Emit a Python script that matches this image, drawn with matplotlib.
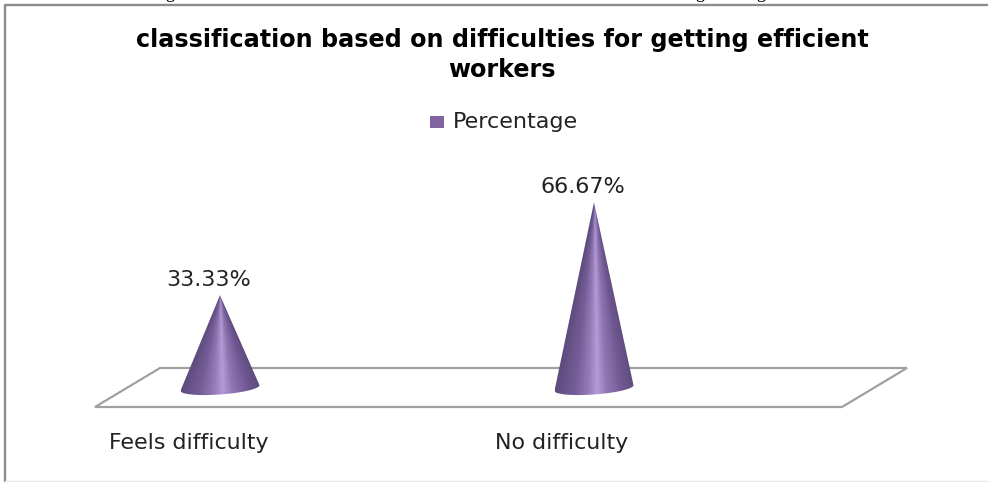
import numpy as np
import matplotlib
matplotlib.use('Agg')
import matplotlib.pyplot as plt
from matplotlib.colors import LinearSegmentedColormap
from matplotlib.patches import PathPatch, Polygon, Rectangle
from matplotlib.path import Path
from matplotlib.transforms import Affine2D

categories = ['Feels difficulty', 'No difficulty']
percentages = [33.33, 66.67]
series_name = 'Percentage'
title = 'classification based on difficulties for getting efficient\nworkers'

W, H = 988, 482
# layout in pixels
cat_px = [220, 594]
base_px = 388
px_per_pct = 2.785
half_w = 39.5
xscale = cat_px[1] - cat_px[0]

fig = plt.figure(figsize=(W / 100, H / 100), dpi=100)
ax = fig.add_axes([0, 0, 1, 1])
ax.axis('off')

# pixel transform, y measured from the top
px = Affine2D().scale(1, -1).translate(0, H)

# outer frame
fig.add_artist(plt.Line2D([5, 5, W], [H - 1, 5, 5], transform=px, color='#8c8c8c', lw=1.7))
fig.add_artist(plt.Line2D([5, W], [H - 1, H - 1], transform=px, color='#e6e6e6', lw=1))

# descenders of the caption line cut off above the frame
for gx in [170, 700, 761]:
    fig.text(gx / W, 1 + 2 / H, 'g', ha='center', va='baseline', fontsize=13,
             family='Liberation Serif', color='black')

# floor
ax.add_patch(Polygon([(95, 407), (842, 407), (907, 368), (160, 368)], closed=True, transform=px,
                     fc='white', ec='#a0a0a0', lw=1.6, joinstyle='miter', zorder=1))

cone_cmap = LinearSegmentedColormap.from_list('cone', [
    (0.0, '#5e4a7c'), (0.25, '#755e98'), (0.42, '#957bb8'), (0.53, '#b49cd8'),
    (0.65, '#8f76b2'), (0.85, '#6f5892'), (1.0, '#604b7e')])

for i, val in enumerate(percentages):
    # base ellipse, tilted up to the right
    t = np.linspace(0, np.pi, 60)
    bx = -half_w * np.cos(t) / xscale
    by = (-np.sin(t) * 6.5 - np.cos(t) * 2.8) / px_per_pct
    verts = [(i + x, y) for x, y in zip(bx, by)] + [(i, val)]
    verts = verts + [verts[0]]
    codes = [Path.MOVETO] + [Path.LINETO] * (len(verts) - 2) + [Path.CLOSEPOLY]
    patch = PathPatch(Path(verts, codes), fc='none', ec='none', zorder=3)
    ax.add_patch(patch)

    # shading converges on the apex
    ext = [i - half_w / xscale, i + half_w / xscale, -4, val]
    xx, yy = np.meshgrid(np.linspace(-1, 1, 300), np.linspace(ext[3], ext[2], 400))
    u = xx / np.maximum((val - yy) / val, 1e-3)
    im = ax.imshow(np.clip((u + 1) / 2, 0, 1), cmap=cone_cmap, vmin=0, vmax=1, aspect='auto',
                   zorder=3, extent=ext, interpolation='bilinear')
    im.set_clip_path(patch)

    ax.text(i - 11 / xscale, val + 15 / px_per_pct, '%.2f%%' % val, ha='center', va='center',
            fontsize=16, color='#222222')

ax.set_xlim(-cat_px[0] / xscale, (W - cat_px[0]) / xscale)
ax.set_ylim(-(H - base_px) / px_per_pct, base_px / px_per_pct)

# category labels
fig.text(189 / W, 1 - 443 / H, categories[0], ha='center', va='center', fontsize=15.9, color='#222222')
fig.text(562 / W, 1 - 443 / H, categories[1], ha='center', va='center', fontsize=15.9, color='#222222')

# title and legend
fig.text(502 / W, 1 - 55 / H, title, ha='center', va='center', fontsize=17.2, fontweight='bold',
         color='black', linespacing=1.35)
fig.add_artist(Rectangle((430, 116), 14, 12, transform=px, fc='#8064a2', ec='none'))
fig.text(453 / W, 1 - 122 / H, series_name, ha='left', va='center', fontsize=16, color='#222222')

fig.savefig('out.png', dpi=100)
